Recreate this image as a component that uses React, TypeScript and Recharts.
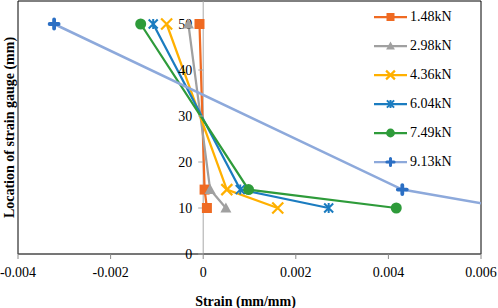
import React from 'react';
import { LineChart, Line, XAxis, YAxis, ReferenceLine, ReferenceArea, ReferenceDot, Legend, Label } from 'recharts';

// gauge positions (mm) and strains, one array per load
const LOCATIONS = [50, 14, 10];
const LOADS = ['1.48kN', '2.98kN', '4.36kN', '6.04kN', '7.49kN', '9.13kN'];
const STRAIN_148 = [-0.00008, 0.00003, 0.00008];
const STRAIN_298 = [-0.00032, 0.00015, 0.00049];
const STRAIN_436 = [-0.00079, 0.00051, 0.00161];
const STRAIN_604 = [-0.00108, 0.0008, 0.00271];
const STRAIN_749 = [-0.00135, 0.00098, 0.00417];
const STRAIN_913 = [-0.00322, 0.0043, 0.0066];
const X_TICKS = [-0.004, -0.002, 0, 0.002, 0.004, 0.006];
const Y_TICKS = [0, 10, 20, 30, 40, 50];

const FONT = 'Liberation Serif';

type MarkerKind = 'square' | 'triangle' | 'x' | 'star' | 'circle' | 'plus';

const SERIES: { name: string; values: number[]; color: string; markerColor: string; marker: MarkerKind; width: number }[] = [
  { name: LOADS[0], values: STRAIN_148, color: '#EF6A22', markerColor: '#EF6A22', marker: 'square', width: 2.25 },
  { name: LOADS[1], values: STRAIN_298, color: '#A0A0A0', markerColor: '#A0A0A0', marker: 'triangle', width: 2.25 },
  { name: LOADS[2], values: STRAIN_436, color: '#FFB000', markerColor: '#FFB000', marker: 'x', width: 2.25 },
  { name: LOADS[3], values: STRAIN_604, color: '#1B7CC0', markerColor: '#1B7CC0', marker: 'star', width: 2.25 },
  { name: LOADS[4], values: STRAIN_749, color: '#2E9B3A', markerColor: '#2E9B3A', marker: 'circle', width: 2.25 },
  { name: LOADS[5], values: STRAIN_913, color: '#8DA9DB', markerColor: '#2B6FC4', marker: 'plus', width: 2.5 },
];

function Marker({ kind, cx, cy, color, s = 1 }: { kind: MarkerKind; cx: number; cy: number; color: string; s?: number }) {
  switch (kind) {
    case 'square':
      return <rect x={cx - 5 * s} y={cy - 5 * s} width={10 * s} height={10 * s} fill={color} />;
    case 'triangle':
      return (
        <polygon
          points={`${cx},${cy - 5.5 * s} ${cx + 5.5 * s},${cy + 4.5 * s} ${cx - 5.5 * s},${cy + 4.5 * s}`}
          fill={color}
        />
      );
    case 'x':
      return (
        <path
          d={`M${cx - 5.5 * s},${cy - 5.5 * s}L${cx + 5.5 * s},${cy + 5.5 * s}M${cx + 5.5 * s},${cy - 5.5 * s}L${cx - 5.5 * s},${cy + 5.5 * s}`}
          stroke={color}
          strokeWidth={2.2}
          fill="none"
        />
      );
    case 'star':
      return (
        <path
          d={`M${cx - 4.5 * s},${cy - 4.5 * s}L${cx + 4.5 * s},${cy + 4.5 * s}M${cx + 4.5 * s},${cy - 4.5 * s}L${cx - 4.5 * s},${cy + 4.5 * s}M${cx},${cy - 5 * s}L${cx},${cy + 5 * s}`}
          stroke={color}
          strokeWidth={2}
          fill="none"
        />
      );
    case 'circle':
      return <circle cx={cx} cy={cy} r={5.5 * s} fill={color} />;
    case 'plus':
      return (
        <path
          d={`M${cx - 4.5 * s},${cy}L${cx + 4.5 * s},${cy}M${cx},${cy - 4.5 * s}L${cx},${cy + 4.5 * s}`}
          stroke={color}
          strokeWidth={3.8 * s}
          strokeLinecap="round"
          fill="none"
        />
      );
  }
  return null;
}

function LegendBox() {
  return (
    <div style={{ fontFamily: FONT, fontSize: 14, color: '#000' }}>
      {SERIES.map((s) => (
        <div key={s.name} style={{ display: 'flex', alignItems: 'center', height: 28.9 }}>
          <svg width={33} height={14} style={{ display: 'block' }}>
            <line x1={0} x2={33} y1={7} y2={7} stroke={s.color} strokeWidth={2.25} />
            <Marker kind={s.marker} cx={16.5} cy={7} color={s.markerColor} s={0.8} />
          </svg>
          <span style={{ marginLeft: 3, lineHeight: '14px' }}>{s.name}</span>
        </div>
      ))}
    </div>
  );
}

export default function App() {
  return (
    <div style={{ position: 'absolute', left: 0, top: 0, width: 498, height: 308, background: '#fff' }}>
      <LineChart width={498} height={308} margin={{ top: 1, right: 17, bottom: 0, left: 0 }}>
        <XAxis
          type="number"
          dataKey="x"
          domain={[-0.004, 0.006]}
          ticks={X_TICKS}
          interval={0}
          allowDataOverflow
          height={54}
          tickSize={5}
          tickMargin={8}
          tickFormatter={(v: number) => (v === 0 ? '0' : v.toFixed(3))}
          tick={{ fontFamily: FONT, fontSize: 14, fill: '#000' }}
          tickLine={{ stroke: '#8a8a8a' }}
          axisLine={{ stroke: '#6f6f6f' }}
        >
          <Label
            content={(p: any) => {
              const vb = p.viewBox;
              return (
                <text
                  x={vb.x + vb.width / 2 - 4}
                  y={306}
                  textAnchor="middle"
                  fontFamily={FONT}
                  fontSize={14}
                  fontWeight="bold"
                  fill="#000"
                >
                  Strain (mm/mm)
                </text>
              );
            }}
          />
        </XAxis>
        <YAxis
          type="number"
          dataKey="y"
          domain={[0, 55]}
          width={18}
          tick={false}
          tickLine={false}
          axisLine={false}
        >
          <Label
            content={(p: any) => {
              const vb = p.viewBox;
              const cx = vb.x + 9.5;
              const cy = vb.y + vb.height / 2;
              return (
                <text
                  x={cx}
                  y={cy}
                  dy="0.35em"
                  transform={`rotate(-90 ${cx} ${cy})`}
                  textAnchor="middle"
                  fontFamily={FONT}
                  fontSize={14}
                  fontWeight="bold"
                  fill="#000"
                >
                  Location of strain gauge (mm)
                </text>
              );
            }}
          />
        </YAxis>
        <ReferenceArea x1={-0.004} x2={0.006} y1={0} y2={55} fill="none" stroke="#000" strokeWidth={1} />
        <ReferenceLine x={0} stroke="#A8A8A8" strokeWidth={1} />
        {Y_TICKS.map((v) => (
          <ReferenceDot
            key={v}
            x={0}
            y={v}
            r={0}
            shape={(p: any) => (
              <g>
                <line x1={p.cx - 5} x2={p.cx} y1={p.cy} y2={p.cy} stroke="#A8A8A8" />
                <text x={p.cx - 11} y={p.cy} dy="0.35em" textAnchor="end" fontFamily={FONT} fontSize={14} fill="#000">
                  {v}
                </text>
              </g>
            )}
          />
        ))}
        {SERIES.map((s) => (
          <Line
            key={s.name}
            name={s.name}
            data={s.values.map((x, i) => ({ x, y: LOCATIONS[i] }))}
            dataKey="y"
            stroke={s.color}
            strokeWidth={s.width}
            isAnimationActive={false}
            dot={(p: any) => (
              <g key={`${s.name}-${p.index}`}>
                <Marker kind={s.marker} cx={p.cx} cy={p.cy} color={s.markerColor} />
              </g>
            )}
            activeDot={false}
          />
        ))}
        <Legend
          layout="horizontal"
          verticalAlign="middle"
          align="center"
          wrapperStyle={{ top: 3, left: 374, width: 100, height: 175, margin: 0 }}
          content={() => <LegendBox />}
        />
      </LineChart>
    </div>
  );
}
